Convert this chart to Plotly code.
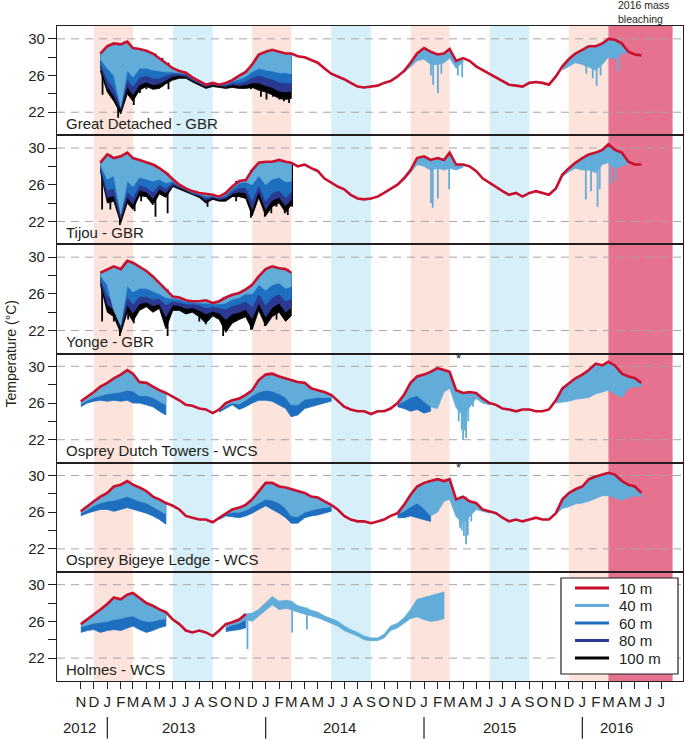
import datetime as dt
import plotly.graph_objects as go
from plotly.subplots import make_subplots

N = None

# sample dates: 1st and 16th of each month, Nov 2012 - May 2016 (86 points)
DATES = [f"{y}-{m:02d}-{d:02d}"
         for y in range(2012, 2017) for m in range(1, 13) for d in (1, 16)
         if (2012, 11) <= (y, m) <= (2016, 5)]

# ---------------- Great Detached - GBR ----------------
GD_10 = [N, N, N, 28.4,
         29.2, 29.5, 29.4, 29.7, 29.0, 28.9, 28.7, 28.4, 27.9, 27.4, 26.8, 26.5,
         26.3, 25.8, 25.4, 25.0, 25.2, 25.0, 25.2, 25.5, 26.0, 26.4, 27.2, 28.3,
         28.6, 28.8, 28.6, 28.4, 28.4, 28.1, 28.0, 27.7, 27.4, 26.8, 26.2, 25.9,
         25.6, 25.2, 24.8, 24.7, 24.8, 24.9, 25.2, 25.4, 25.9, 26.5, 27.4, 28.4,
         29.0, 28.6, 28.3, 28.4, 28.9, 27.6, 27.9, 27.6, 27.0, 26.6, 26.2, 25.8,
         25.4, 25.0, 24.9, 24.8, 25.2, 25.3, 25.2, 25.0, 25.9, 27.0, 27.8, 28.4,
         28.8, 29.2, 29.2, 29.5, 30.0, 29.9, 29.5, 28.6, 28.3, 28.2]
GD_40 = ([N] * 3 +
         [27.8, 26.8, 26.0, 22.6, 26.6, 25.8, 26.8, 26.8, 26.6, 26.5, 26.4, 26.4,
          26.3, 26.2, 25.7, 25.3, 25.0, 25.1, 25.0, 25.1, 25.4, 25.6, 25.9, 26.4,
          26.8, 26.6, 26.5, 26.3, 26.3, 26.2] + [N] * 16 +
         [26.3, 27.0, 27.6, 27.8, 27.2, 27.2, 27.4, 27.9, 26.8, 27.5] + [N] * 14 +
         [26.6, 27.0, 27.4, 27.2, 26.9, 26.6, 27.2, 28.0, 27.8, 28.4, 28.5] + [N] * 2)
GD_60 = ([N] * 3 +
         [27.4, 25.6, 24.6, 22.8, 25.6, 24.8, 25.8, 26.0, 25.7, 25.7, 26.0, 26.2,
          26.2, 26.1, 25.6, 25.2, 24.9, 25.1, 24.9, 25.0, 25.2, 25.2, 25.4, 25.8,
          26.0, 25.8, 25.6, 25.3, 25.2, 25.2] + [N] * 53)
GD_80 = ([N] * 3 +
         [27.0, 24.8, 23.8, 22.3, 24.8, 23.9, 25.0, 25.3, 25.0, 25.1, 25.5, 25.9,
          26.0, 25.9, 25.5, 25.1, 24.8, 25.0, 24.9, 24.8, 25.0, 24.9, 25.0, 25.2,
          25.2, 24.9, 24.7, 24.3, 24.2, 24.3] + [N] * 53)
GD_100 = ([N] * 3 +
          [26.5, 24.2, 23.2, 21.8, 24.0, 23.2, 24.4, 24.8, 24.5, 24.6, 25.1, 25.5,
           25.7, 25.7, 25.3, 24.9, 24.6, 24.8, 24.7, 24.6, 24.7, 24.6, 24.6, 24.7,
           24.4, 24.2, 23.9, 23.5, 23.4, 23.5] + [N] * 53)
GD_SPIKES_100 = [("2012-12-21", 23.9), ("2013-01-08", 24.5), ("2013-01-26", 21.4),
                 ("2013-02-10", 23.4), ("2013-03-03", 22.8), ("2013-03-17", 24.1),
                 ("2013-04-01", 24.5), ("2013-04-22", 24.6), ("2013-05-08", 24.8),
                 ("2013-05-22", 24.5), ("2013-11-28", 24.5), ("2013-12-21", 23.7),
                 ("2014-01-03", 23.4), ("2014-01-18", 23.7), ("2014-02-02", 23.4),
                 ("2014-02-12", 23.2), ("2014-02-24", 23.0)]
GD_SPIKES_40 = [("2015-01-17", 26.0), ("2015-01-22", 25.0), ("2015-02-02", 24.1),
                ("2015-02-10", 26.2), ("2015-03-20", 26.0), ("2015-03-30", 25.8),
                ("2016-01-10", 26.2), ("2016-01-25", 25.7), ("2016-02-03", 24.9),
                ("2016-02-12", 26.0), ("2016-03-24", 26.5)]

# ---------------- Tijou - GBR ----------------
TJ_10 = [N, N, N, 28.4,
         29.3, 28.9, 29.1, 29.5, 28.9, 28.7, 28.4, 28.2, 27.8, 27.3, 26.6, 26.0,
         25.6, 25.3, 25.1, 25.0, 24.9, 24.7, 25.1, 25.8, 26.4, 26.5, 27.6, 28.4,
         28.5, 28.5, 28.7, 28.5, 28.4, 28.0, 28.2, 27.8, 27.5, 26.7, 26.2, 25.8,
         25.5, 24.9, 24.5, 24.4, 24.5, 24.7, 25.1, 25.5, 26.0, 26.7, 27.6, 28.9,
         29.1, 28.7, 28.9, 28.7, 29.5, 28.2, 28.2, 28.0, 27.5, 26.7, 26.2, 25.8,
         25.3, 24.9, 25.1, 24.7, 25.1, 25.3, 25.1, 24.9, 25.6, 27.1, 27.8, 28.4,
         28.9, 29.3, 29.5, 29.8, 30.4, 29.8, 29.5, 28.5, 28.2, 28.2]
TJ_40 = ([N] * 3 +
         [28.2, 26.6, 27.0, 22.8, 26.4, 25.8, 26.8, 26.6, 26.4, 26.6, 26.2, 26.4,
          25.9, 25.5, 25.2, 25.0, 24.8, 24.8, 24.6, 24.9, 25.6, 26.2, 26.3, 26.0,
          27.0, 26.0, 26.6, 26.8, 26.3, 26.4] + [N] * 16 +
         [26.5, 27.3, 28.2, 28.0, 27.6, 27.8, 27.6, 27.8, 27.6, 27.9] + [N] * 14 +
         [26.9, 27.4, 27.8, 27.6, 27.6, 27.3, 28.2, 28.4, 27.8, 28.0, 28.3] + [N] * 2)
TJ_60 = ([N] * 3 +
         [28.0, 25.4, 25.6, 23.0, 25.3, 24.6, 26.0, 25.7, 25.2, 26.0, 25.6, 26.2,
          25.8, 25.5, 25.1, 24.9, 24.6, 24.7, 24.5, 24.7, 25.3, 25.7, 25.7, 24.3,
          26.0, 24.2, 25.1, 25.4, 24.6, 25.2] + [N] * 53)
TJ_80 = ([N] * 3 +
         [27.8, 24.6, 24.8, 22.3, 24.6, 23.9, 25.4, 25.2, 24.5, 25.5, 25.1, 26.0,
          25.7, 25.4, 25.0, 24.8, 24.3, 24.6, 24.4, 24.5, 25.0, 25.2, 25.1, 23.3,
          25.3, 23.3, 24.3, 24.6, 23.7, 24.4] + [N] * 53)
TJ_100 = ([N] * 3 +
          [27.5, 24.0, 24.2, 21.8, 24.0, 23.3, 24.8, 24.7, 23.8, 25.0, 24.6, 25.8,
           25.5, 25.2, 24.9, 24.6, 24.0, 24.4, 24.2, 24.2, 24.7, 24.7, 24.5, 22.6,
           24.6, 22.6, 23.6, 24.0, 23.0, 23.8] + [N] * 53)
TJ_SPIKES_100 = [("2012-12-20", 23.3), ("2013-01-08", 23.3), ("2013-01-30", 21.6),
                 ("2013-02-24", 23.6), ("2013-03-05", 23.1), ("2013-03-20", 24.2),
                 ("2013-04-22", 22.5), ("2013-05-20", 22.9), ("2013-08-20", 23.6),
                 ("2013-10-25", 24.2), ("2013-11-28", 22.4), ("2013-12-30", 22.5),
                 ("2014-01-14", 22.9), ("2014-01-26", 23.6), ("2014-02-14", 22.9),
                 ("2014-02-21", 22.7), ("2014-03-03", 23.6)]
TJ_SPIKES_40 = [("2015-01-17", 24.0), ("2015-01-21", 23.5), ("2015-02-02", 24.5),
                ("2015-02-28", 25.5), ("2016-01-09", 24.4), ("2016-01-21", 25.3),
                ("2016-02-05", 23.6), ("2016-02-10", 25.5), ("2016-03-05", 26.0),
                ("2016-03-18", 26.4)]

# ---------------- Yonge - GBR ----------------
YO_10 = ([N] * 3 +
         [28.3, 28.7, 29.0, 28.7, 29.6, 29.4, 29.0, 28.5, 27.9, 27.2, 26.5, 25.7,
          25.6, 25.3, 25.2, 25.2, 25.3, 25.0, 25.2, 25.6, 25.9, 26.1, 26.5, 27.0,
          27.9, 28.7, 29.0, 28.8, 28.7, 28.3] + [N] * 53)
YO_40 = ([N] * 3 +
         [28.0, 27.0, 24.2, 22.6, 26.9, 26.2, 26.6, 26.6, 26.3, 26.0, 25.6, 25.5,
          25.4, 25.2, 25.1, 25.0, 25.0, 24.9, 24.9, 25.0, 25.4, 25.6, 26.0, 26.0,
          27.0, 26.4, 27.0, 27.2, 26.6, 26.8] + [N] * 53)
YO_60 = ([N] * 3 +
         [27.7, 25.8, 25.3, 23.0, 25.7, 24.9, 25.7, 25.7, 25.4, 25.5, 24.8, 25.2,
          25.1, 24.9, 24.9, 24.8, 24.5, 24.6, 24.5, 24.3, 24.7, 24.9, 25.2, 24.6,
          26.0, 24.8, 25.6, 26.0, 25.2, 25.5] + [N] * 53)
YO_80 = ([N] * 3 +
         [27.4, 24.8, 24.3, 22.3, 24.8, 23.9, 24.9, 25.1, 24.7, 24.9, 23.5, 24.8,
          24.7, 24.4, 24.5, 24.2, 23.8, 24.1, 23.9, 23.2, 23.8, 24.0, 24.3, 23.3,
          25.0, 23.5, 24.5, 25.0, 24.0, 24.5] + [N] * 53)
YO_100 = ([N] * 3 +
          [27.0, 24.0, 23.5, 21.7, 24.0, 23.0, 24.2, 24.6, 24.0, 24.4, 22.2, 24.2,
           24.2, 23.8, 24.0, 23.5, 22.8, 23.6, 23.2, 21.8, 22.8, 23.2, 23.5, 22.1,
           24.2, 22.5, 23.5, 24.0, 23.0, 23.6] + [N] * 53)
YO_SPIKES_100 = [("2012-12-20", 23.0), ("2013-01-16", 23.0), ("2013-01-30", 21.4),
                 ("2013-02-18", 23.2), ("2013-03-03", 22.8), ("2013-05-20", 21.4),
                 ("2013-08-01", 23.0), ("2013-08-16", 22.7), ("2013-09-25", 21.4),
                 ("2013-11-28", 22.1), ("2013-12-30", 22.5), ("2014-01-26", 23.2),
                 ("2014-02-21", 23.7)]

# ---------------- Osprey Dutch Towers - WCS ----------------
ODT_10 = [26.2, 26.7, 27.2, 27.8,
          28.2, 28.7, 29.1, 29.6, 29.2, 28.3, 28.2, 27.8, 27.4, 27.1, 26.7, 26.3,
          25.8, 25.7, 25.4, 25.3, 24.9, 25.3, 26.0, 26.3, 26.5, 26.9, 27.4, 28.5,
          29.1, 29.2, 28.9, 28.7, 28.5, 28.3, 28.2, 27.6, 27.4, 27.2, 26.9, 26.3,
          25.6, 25.3, 25.1, 25.1, 24.8, 25.1, 25.1, 25.4, 26.0, 26.9, 28.2, 28.9,
          29.1, 29.4, 29.8, 29.6, 29.4, 27.4, 27.1, 27.2, 27.1, 26.5, 26.0, 25.8,
          25.4, 25.3, 25.1, 25.3, 25.3, 25.1, 25.1, 25.3, 26.3, 27.6, 28.2, 28.7,
          29.1, 29.6, 30.3, 30.1, 30.5, 30.1, 29.2, 28.9, 28.7, 28.2]
ODT_40 = [25.9, 26.3, 26.6, 26.8,
          27.0, 27.1, 27.2, 27.4, 27.3, 26.8, 26.8, 26.6, 26.2, 25.8, N, N,
          N, N, N, N, N, 25.2, 25.7, 26.0, 25.9, 26.3, 26.8, 27.2,
          27.4, 27.3, 27.0, 26.6, 25.8, 25.8, 26.4, 26.5, 26.6, 26.6, 26.6, N,
          N, N, N, N, N, N, N, N, 25.9, 26.2, 26.6, 26.8,
          26.2, 25.6, 25.4, 27.2, 27.6, 25.5, 24.6, 25.5, 26.5, 26.0, 25.8, N,
          N, N, N, N, N, N, N, N, 26.0, 26.1, 26.2, 26.4,
          26.5, 26.6, 27.0, 27.2, 27.4, 27.0, 26.6, 27.6, 27.8, 27.8]
ODT_60 = [25.6, 26.0, 26.2, 26.3,
          26.2, 26.3, 26.2, 26.3, 26.0, 26.0, 25.8, 25.6, 25.1, 24.7, N, N,
          N, N, N, N, N, 25.0, 25.4, 25.8, 25.3, 25.6, 26.0, 26.3,
          26.3, 26.2, 25.8, 25.4, 24.5, 24.7, 25.4, 25.6, 25.8, 26.0, 26.2, N,
          N, N, N, N, N, N, N, N, 25.6, 25.4, 25.1, 25.3,
          24.9, 25.1] + [N] * 32
ODT_SPIKES_40 = [("2015-03-22", 24.0), ("2015-03-29", 23.1), ("2015-04-01", 22.0),
                 ("2015-04-05", 23.0), ("2015-04-08", 22.2), ("2015-04-13", 24.0),
                 ("2015-04-24", 25.6)]

# ---------------- Osprey Bigeye Ledge - WCS ----------------
OBL_10 = [26.1, 26.7, 27.2, 27.7,
          28.1, 28.8, 29.0, 29.4, 29.0, 28.7, 28.3, 27.7, 27.4, 27.0, 26.7, 26.3,
          25.6, 25.4, 25.2, 25.2, 24.9, 25.4, 25.9, 26.3, 26.5, 26.8, 27.4, 28.3,
          29.2, 29.2, 28.8, 28.7, 28.5, 28.3, 28.1, 27.7, 27.6, 27.2, 26.8, 26.3,
          25.6, 25.2, 25.0, 25.0, 24.8, 25.0, 25.2, 25.6, 25.9, 26.8, 27.9, 28.8,
          29.2, 29.4, 29.6, 29.4, 29.6, 27.4, 27.7, 27.2, 27.0, 26.3, 26.1, 25.9,
          25.4, 25.0, 25.2, 25.0, 25.2, 25.4, 25.2, 25.2, 25.9, 27.4, 28.1, 28.5,
          28.8, 29.6, 29.9, 30.1, 30.3, 30.1, 29.4, 29.0, 28.8, 28.1]
OBL_40 = [25.9, 26.3, 26.7, 27.0,
          27.2, 27.3, 27.5, 27.7, 27.5, 27.2, 27.0, 26.6, 26.2, 25.8, N, N,
          N, N, N, N, N, 25.3, 25.8, 26.0, 26.0, 26.2, 26.6, 27.0,
          27.4, 27.3, 27.0, 26.4, 25.6, 25.5, 26.0, 26.2, 26.4, 26.5, 26.6, N,
          N, N, N, N, N, N, N, N, 25.8, 26.1, 26.6, 27.0,
          26.4, 25.6, 26.0, 27.2, 27.4, 25.5, 24.8, 25.5, 26.3, 26.1, 25.9, N,
          N, N, N, N, N, N, N, N, 25.8, 26.4, 26.6, 26.9,
          27.0, 27.2, 27.5, 27.8, 27.8, 27.6, 27.3, 27.6, 27.8, 27.7]
OBL_60 = [25.6, 25.9, 26.1, 26.3,
          26.3, 26.1, 26.3, 26.5, 26.3, 26.1, 25.9, 25.6, 25.2, 24.7, N, N,
          N, N, N, N, N, 25.2, 25.6, 25.5, 25.4, 25.6, 25.9, 26.3,
          26.7, 26.3, 25.9, 25.4, 24.8, 24.8, 25.4, 25.6, 25.7, 25.9, 26.1, N,
          N, N, N, N, N, N, N, N, 25.4, 25.4, 25.6, 25.4,
          25.2, 25.0] + [N] * 32
OBL_SPIKES_40 = [("2015-03-25", 24.3), ("2015-03-29", 24.0), ("2015-04-03", 23.4),
                 ("2015-04-08", 22.5), ("2015-04-12", 23.5), ("2015-04-20", 25.0)]

# ---------------- Holmes - WCS ----------------
HO_10 = [25.7, 26.2, 26.8, 27.3,
         27.9, 28.6, 28.4, 28.9, 29.1, 28.6, 28.0, 27.7, 27.3, 27.0, 26.2, 25.7,
         25.0, 24.8, 25.0, 24.8, 24.4, 25.0, 25.7, 25.9, 26.2, 26.8, N, N] + [N] * 58
HO_40 = [25.4, 25.6, 25.8, 25.9,
         26.0, 26.2, 26.3, 26.5, 26.6, 26.2, 26.0, 26.0, 26.2, 26.3, N, N,
         N, N, N, N, N, N, 25.3, 25.6, 25.8, 26.2, N, N] + [N] * 58
HO_60 = [24.8, 25.0, 25.1, 24.8,
         25.0, 25.1, 25.0, 25.3, 25.5, 25.1, 24.8, 25.0, 25.3, 25.5, N, N,
         N, N, N, N, N, N, 24.9, 25.0, 25.1, 25.3, N, N] + [N] * 58
# 40 m logger after the 10 m record ends (upper / lower envelope)
HO_40_HI = ([N] * 25 +
            [26.8, 26.9, 27.3, 28.0, 28.7, 28.2, 28.3, 28.2, 27.7, 27.5, 27.2, 27.0,
             26.6, 26.3, 26.0, 25.5, 25.1, 24.8, 24.4, 24.2, 24.2, 24.6, 25.5, 25.8,
             26.4, 27.3, 28.4, 28.6, 28.8, 29.0, 29.2] + [N] * 30)
HO_40_LO = ([N] * 25 +
            [26.2, 26.0, 26.6, 27.2, 27.8, 27.3, 27.4, 27.3, 27.0, 26.8, 26.6, 26.4,
             26.1, 25.8, 25.5, 25.0, 24.7, 24.4, 24.0, 23.9, 23.9, 24.2, 25.0, 25.3,
             25.8, 26.3, 26.5, 26.2, 26.0, 26.1, 26.3] + [N] * 30)
HO_SPIKES_40 = [("2013-11-20", 23.0), ("2014-03-03", 24.8), ("2014-04-06", 25.1)]

PANEL_NAMES = ["Great Detached - GBR", "Tijou - GBR", "Yonge - GBR",
               "Osprey Dutch Towers - WCS", "Osprey Bigeye Ledge - WCS", "Holmes - WCS"]
PANELS = [
    (GD_10, {100: GD_100, 80: GD_80, 60: GD_60, 40: GD_40},
     {100: GD_SPIKES_100, 40: GD_SPIKES_40}),
    (TJ_10, {100: TJ_100, 80: TJ_80, 60: TJ_60, 40: TJ_40},
     {100: TJ_SPIKES_100, 40: TJ_SPIKES_40}),
    (YO_10, {100: YO_100, 80: YO_80, 60: YO_60, 40: YO_40}, {100: YO_SPIKES_100}),
    (ODT_10, {60: ODT_60, 40: ODT_40}, {40: ODT_SPIKES_40}),
    (OBL_10, {60: OBL_60, 40: OBL_40}, {40: OBL_SPIKES_40}),
    (HO_10, {60: HO_60, 40: HO_40}, {40: HO_SPIKES_40}),
]

DEPTHS = ["10 m", "40 m", "60 m", "80 m", "100 m"]
COLORS = {10: "#c8102e", 40: "#62acd9", 60: "#1f6fc0", 80: "#2b3990", 100: "#000000"}

SUMMERS = [("2012-12-01", "2013-03-01"), ("2013-12-01", "2014-03-01"),
           ("2014-12-01", "2015-03-01"), ("2015-12-01", "2016-03-01")]
WINTERS = [("2013-06-01", "2013-09-01"), ("2014-06-01", "2014-09-01"),
           ("2015-06-01", "2015-09-01")]
BLEACHING = ("2016-03-01", "2016-07-27")

MONTH_LETTERS = list("JFMAMJJASOND")
MONTH_TICKS = [f"{y}-{m:02d}-01" for y in range(2012, 2017) for m in range(1, 13)
               if (2012, 11) <= (y, m) <= (2016, 7)]
MONTH_TEXT = [MONTH_LETTERS[int(t[5:7]) - 1] for t in MONTH_TICKS]
YEARS = ["2012", "2013", "2014", "2015", "2016"]
YEAR_CENTERS = ["2012-10-30", "2013-06-13", "2014-06-21", "2015-06-23", "2016-03-20"]
YEAR_BREAKS = ["2013-01-01", "2014-01-01", "2015-01-01", "2016-01-01"]

FONT = "Liberation Sans, Arial, Helvetica, sans-serif"
TXT = "#231f20"

# plot-area geometry in pixels (for converting legend placement to paper units)
PL, PR, PT, PB = 57, 683, 26, 681


def px_x(x):
    return (x - PL) / (PR - PL)


def px_y(y):
    return (PB - y) / (PB - PT)


DATE_OBJ = [dt.date.fromisoformat(d) for d in DATES]


def nearest(upper, date):
    t = dt.date.fromisoformat(date)
    best = None
    for i, d in enumerate(DATE_OBJ):
        if upper[i] is None:
            continue
        if best is None or abs((d - t).days) < abs((DATE_OBJ[best] - t).days):
            best = i
    return upper[best]


def runs(upper, lower):
    out, cur = [], []
    for i in range(len(DATES)):
        if upper[i] is not None and lower[i] is not None:
            cur.append(i)
        else:
            if len(cur) > 1:
                out.append(cur)
            cur = []
    if len(cur) > 1:
        out.append(cur)
    return out


def add_band(fig, upper, lower, color, row, width=0.8):
    for r in runs(upper, lower):
        xs = [DATES[i] for i in r] + [DATES[i] for i in reversed(r)]
        ys = [upper[i] for i in r] + [lower[i] for i in reversed(r)]
        fig.add_trace(go.Scatter(x=xs, y=ys, mode="lines", fill="toself",
                                 fillcolor=color, line=dict(color=color, width=width),
                                 hoverinfo="skip", showlegend=False), row=row, col=1)


def add_spikes(fig, upper, spikes, color, row):
    xs, ys = [], []
    for d, v in spikes:
        xs += [d, d, None]
        ys += [nearest(upper, d), v, None]
    fig.add_trace(go.Scatter(x=xs, y=ys, mode="lines", connectgaps=False,
                             line=dict(color=color, width=1.8),
                             hoverinfo="skip", showlegend=False), row=row, col=1)


fig = make_subplots(rows=6, cols=1, shared_xaxes=True, vertical_spacing=0)

for p, (red, deep, spikes) in enumerate(PANELS, start=1):
    upper_all = red
    if p == 6:
        upper_all = [r if r is not None else h for r, h in zip(red, HO_40_HI)]
    for d in (100, 80, 60, 40):
        if d in deep:
            add_band(fig, red, deep[d], COLORS[d], p)
        if d == 40 and p == 6:
            add_band(fig, HO_40_HI, HO_40_LO, COLORS[40], p)
        if d in spikes:
            add_spikes(fig, upper_all, spikes[d], COLORS[d], p)
    fig.add_trace(go.Scatter(x=DATES, y=red, mode="lines", connectgaps=False,
                             line=dict(color=COLORS[10], width=2.6),
                             hoverinfo="skip", showlegend=False), row=p, col=1)

shapes = []
for a, b in SUMMERS:
    shapes.append(dict(type="rect", xref="x", yref="paper", x0=a, x1=b, y0=0, y1=1,
                       fillcolor="#fce3dc", line=dict(width=0), layer="below"))
for a, b in WINTERS:
    shapes.append(dict(type="rect", xref="x", yref="paper", x0=a, x1=b, y0=0, y1=1,
                       fillcolor="#d6eff9", line=dict(width=0), layer="below"))
shapes.append(dict(type="rect", xref="x", yref="paper", x0=BLEACHING[0], x1=BLEACHING[1],
                   y0=0, y1=1, fillcolor="#e5738f", line=dict(width=0), layer="below"))
for p in range(1, 7):
    yr = "y" if p == 1 else f"y{p}"
    for v in (22, 30):
        shapes.append(dict(type="line", xref="paper", yref=yr, x0=0, x1=1, y0=v, y1=v,
                           line=dict(color="#a6a6a6", width=1, dash="8px,6px"),
                           layer="below"))
for xb in YEAR_BREAKS:
    shapes.append(dict(type="line", xref="x", yref="paper", x0=xb, x1=xb,
                       y0=-0.055, y1=-0.088, line=dict(color=TXT, width=1.2)))

# legend box (drawn manually to match the compact spacing)
shapes.append(dict(type="rect", xref="paper", yref="paper",
                   x0=px_x(561), x1=px_x(678), y0=px_y(674), y1=px_y(578),
                   fillcolor="white", line=dict(color=TXT, width=1.2), layer="above"))
LEGEND_ROWS = [588, 605.5, 623, 640.5, 658]
ann = []
for name, d, ry in zip(DEPTHS, (10, 40, 60, 80, 100), LEGEND_ROWS):
    shapes.append(dict(type="line", xref="paper", yref="paper",
                       x0=px_x(575), x1=px_x(609), y0=px_y(ry), y1=px_y(ry),
                       line=dict(color=COLORS[d], width=3), layer="above"))
    ann.append(dict(text=name, xref="paper", yref="paper", x=px_x(617), y=px_y(ry),
                    xanchor="left", yanchor="middle", showarrow=False,
                    font=dict(size=15, color=TXT)))

for p, name in enumerate(PANEL_NAMES, start=1):
    yr = "y" if p == 1 else f"y{p}"
    ann.append(dict(text=name, xref="paper", yref=yr, x=0.011, y=20.8,
                    xanchor="left", yanchor="middle", showarrow=False,
                    font=dict(size=15, color=TXT)))
for yt, xc in zip(YEARS, YEAR_CENTERS):
    ann.append(dict(text=yt, xref="x", yref="paper", x=xc, y=px_y(727),
                    xanchor="center", yanchor="middle", showarrow=False,
                    font=dict(size=15, color=TXT)))
ann.append(dict(text="2016 mass<br>bleaching", xref="paper", yref="paper", x=px_x(616),
                y=px_y(11.5), xanchor="left", yanchor="middle", align="left",
                showarrow=False, font=dict(size=10.5, color=TXT)))
for yr in ("y4", "y5"):
    ann.append(dict(text="*", xref="x", yref=yr, x="2015-03-21", y=30.9,
                    xanchor="center", yanchor="middle", showarrow=False,
                    font=dict(size=13, color=TXT)))
ann.append(dict(text="Temperature (°C)", xref="paper", yref="paper", x=px_x(10), y=0.5,
                textangle=-90, xanchor="center", yanchor="middle", showarrow=False,
                font=dict(size=14, color=TXT)))

fig.update_layout(
    width=685, height=739,
    margin=dict(l=PL, r=685 - PR, t=PT, b=739 - PB),
    plot_bgcolor="white", paper_bgcolor="white",
    font=dict(family=FONT, size=15, color=TXT),
    shapes=shapes, annotations=ann,
    showlegend=False,
)
fig.update_xaxes(range=["2012-09-07", "2016-08-20"], showline=True, mirror=True,
                 linecolor=TXT, linewidth=1.3, showgrid=False, zeroline=False,
                 ticks="", showticklabels=False)
fig.update_xaxes(tickmode="array", tickvals=MONTH_TICKS, ticktext=MONTH_TEXT,
                 ticks="outside", ticklen=7, tickcolor=TXT, showticklabels=True,
                 tickfont=dict(size=15, color=TXT), tickangle=0, row=6, col=1)
fig.update_yaxes(range=[19.5, 31.4], tickmode="array", tickvals=[22, 24, 26, 28, 30],
                 ticktext=["22", "", "26", "", "30"], ticks="outside", ticklen=8,
                 tickcolor=TXT, showline=True, mirror=True, linecolor=TXT, linewidth=1.3,
                 showgrid=False, zeroline=False, tickfont=dict(size=15, color=TXT))

fig.write_html("out.html", config={"displayModeBar": False},
               post_script="document.body.style.margin='0px';")
